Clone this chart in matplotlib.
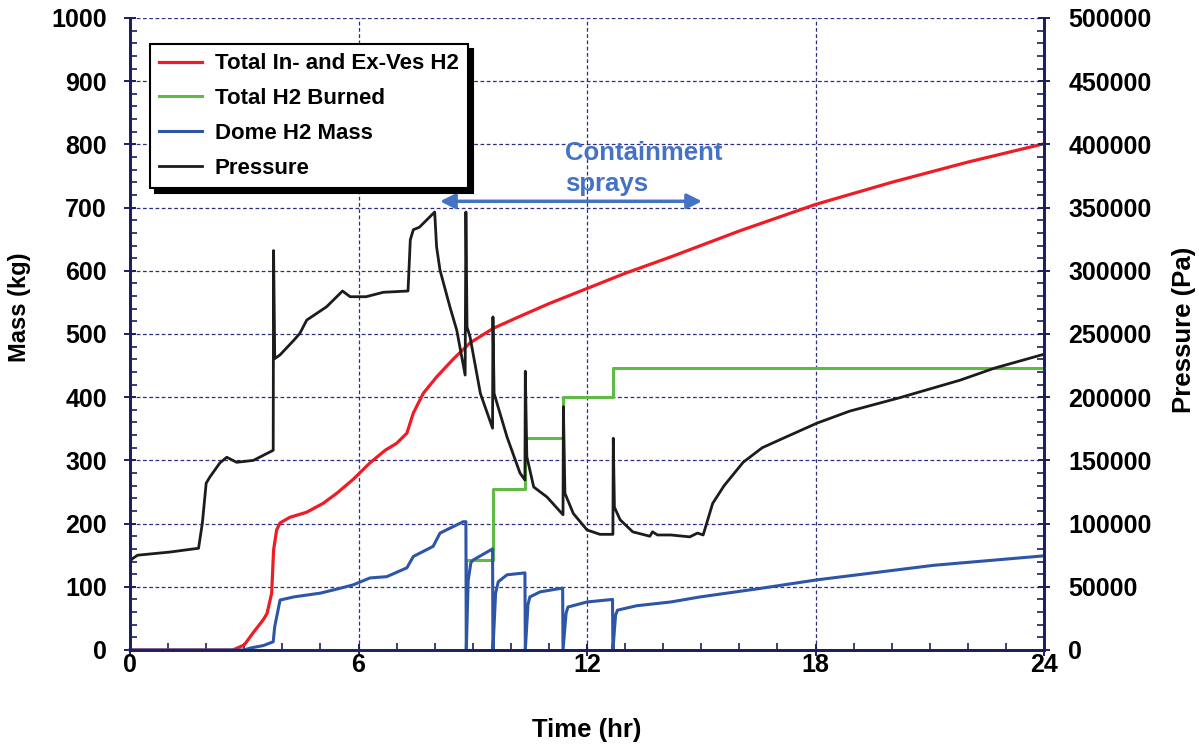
import matplotlib
matplotlib.use("Agg")
import matplotlib.pyplot as plt
from matplotlib.ticker import MultipleLocator

# Total in- and ex-vessel H2 (kg)
h2_total_time = [0.0, 2.7, 3.0, 3.23, 3.5, 3.6, 3.72, 3.77, 3.85, 3.94, 4.2, 4.64,
                 5.07, 5.43, 5.86, 6.3, 6.7, 7.0, 7.27, 7.44, 7.7, 8.05, 8.5, 8.93,
                 9.54, 10.24, 11.0, 12.0, 13.0, 14.2, 16.0, 18.0, 20.0, 22.0, 24.0]
h2_total = [0, 0, 8, 27, 48, 58, 90, 158, 190, 201, 210, 218,
            232, 248, 270, 296, 316, 327, 343, 375, 406, 432, 461, 486,
            509, 528, 548, 572, 596, 622, 663, 705, 740, 772, 801]

# Total H2 burned (kg), step after each burn
burn_time = [0.0, 8.83, 9.53, 10.38, 11.37, 12.68, 24.0]
h2_burned = [0, 143, 255, 336, 400, 446, 446]

# Dome H2 mass (kg)
dome_time = [0.0, 3.0, 3.15, 3.5, 3.76, 3.8, 3.94, 4.3, 5.0, 5.34, 5.86, 6.3,
             6.74, 7.27, 7.44, 7.96, 8.14, 8.75, 8.82,
             8.83, 8.88, 8.95, 9.0, 9.52,
             9.53, 9.6, 9.67, 9.9, 10.37,
             10.38, 10.45, 10.5, 10.77, 11.36,
             11.37, 11.45, 11.5, 12.0, 12.67,
             12.68, 12.75, 12.8, 13.3, 14.2, 14.97, 16.5, 18.04, 21.1, 24.0]
dome_h2 = [0, 0, 3, 7, 13, 37, 79, 84, 90, 95, 103, 114,
           116, 130, 148, 164, 185, 203, 203,
           0, 110, 138, 142, 160,
           0, 90, 108, 119, 122,
           0, 72, 84, 92, 98,
           0, 58, 68, 76, 80,
           0, 55, 63, 70, 76, 84, 97, 111, 134, 149]

# Containment pressure (Pa)
press_time = [0.0, 0.05, 0.2, 1.05, 1.8, 1.9, 2.0, 2.1, 2.36, 2.54, 2.8, 3.24,
              3.76, 3.77, 3.8, 3.94, 4.3, 4.46, 4.64, 5.16, 5.58, 5.78, 6.2,
              6.65, 7.3, 7.36, 7.44, 7.6, 8.0, 8.05, 8.14, 8.4, 8.58, 8.8,
              8.82, 8.85, 8.93, 9.2, 9.52, 9.53, 9.56, 9.9, 10.24, 10.37,
              10.38, 10.42, 10.6, 10.95, 11.37, 11.38, 11.42, 11.64, 12.0,
              12.34, 12.68, 12.69, 12.72, 12.87, 13.2, 13.65, 13.72, 13.85,
              14.2, 14.7, 14.9, 15.05, 15.3, 15.6, 16.1, 16.6, 17.15, 18.04,
              18.9, 20.2, 21.8, 22.7, 24.0]
pressure = [69500, 72000, 75000, 77500, 80500, 100500, 132000, 137000, 148000,
            152500, 148500, 150000,
            158000, 316000, 230500, 233500, 245000, 250500, 261000, 271500,
            284000, 279500, 279500,
            283000, 284000, 324500, 332500, 334500, 346500, 319000, 300500,
            271500, 253000, 217500,
            346500, 255500, 247500, 203000, 175500, 263500, 203000, 168500,
            140000, 134500,
            220500, 153000, 129000, 121000, 107000, 192500, 124000, 108000,
            95000,
            91500, 91500, 167500, 113000, 103000, 93500, 90000, 93500, 91000,
            91000, 89500, 92500, 91000, 116000, 130000, 148500, 160000,
            167500, 179500,
            189000, 199500, 213500, 223000, 234000]

series_labels = ["Total In- and Ex-Ves H2", "Total H2 Burned", "Dome H2 Mass", "Pressure"]
spray_span = (8.14, 15.02)

plt.rcParams["font.family"] = ["Liberation Sans", "DejaVu Sans"]
plt.rcParams["font.weight"] = "bold"

navy = "#1b1f5c"
grid_color = "#2e2e85"
red = "#ee1c24"
green = "#5fbb46"
blue = "#2e56a6"
black = "#1c1c1c"
spray_blue = "#4472c4"

fig = plt.figure(figsize=(11.99, 7.45), dpi=100)
ax = fig.add_axes([0.10843, 0.12752, 0.76230, 0.84832])
ax2 = ax.twinx()

l1, = ax.plot(h2_total_time, h2_total, color=red, lw=2.3, zorder=4)
l2, = ax.plot(burn_time, h2_burned, color=green, lw=2.2, drawstyle="steps-post",
              clip_on=False, zorder=3)
l3, = ax.plot(dome_time, dome_h2, color=blue, lw=2.2, clip_on=False, zorder=5)
l4, = ax2.plot(press_time, pressure, color=black, lw=2.0)

ax.set_xlim(0, 24)
ax.set_ylim(0, 1000)
ax2.set_ylim(0, 500000)

ax.xaxis.set_major_locator(MultipleLocator(6))
ax.xaxis.set_minor_locator(MultipleLocator(1))
ax.yaxis.set_major_locator(MultipleLocator(100))
ax.yaxis.set_minor_locator(MultipleLocator(20))
ax2.yaxis.set_major_locator(MultipleLocator(50000))
ax2.yaxis.set_minor_locator(MultipleLocator(10000))

ax.grid(True, which="major", color=grid_color, linestyle=(0, (3, 2)), lw=0.9)
ax.set_axisbelow(True)

for a in (ax, ax2):
    a.spines["top"].set_visible(False)
    for side in ("left", "right", "bottom"):
        a.spines[side].set_color(navy)
        a.spines[side].set_linewidth(2)
    a.tick_params(which="major", direction="inout", length=9, width=1.4,
                  color=navy, labelsize=18)
    a.tick_params(which="minor", direction="in", length=5, width=1.2, color=navy)
ax.tick_params(axis="x", pad=-2)
ax.tick_params(axis="y", pad=12)
ax2.tick_params(axis="y", pad=13)

ax.set_xlabel("Time (hr)", fontsize=18.5, fontweight="bold")
ax.xaxis.set_label_coords(0.5, -0.108)
ax.set_ylabel("Mass (kg)", fontsize=17, fontweight="bold",
              family=["Liberation Sans Narrow", "Liberation Sans"])
ax.yaxis.set_label_coords(-0.108, 0.543)
ax2.set_ylabel("Pressure (Pa)", fontsize=18.5, fontweight="bold")
ax2.yaxis.set_label_coords(1.14, 0.506)

ax.annotate("", xy=(spray_span[0], 710), xytext=(spray_span[1], 710),
            arrowprops=dict(arrowstyle="<|-|>", color=spray_blue, lw=2.5,
                            mutation_scale=22, shrinkA=0, shrinkB=0))
ax.text(11.42, 806, "Containment\nsprays", ha="left", va="top", color=spray_blue,
        fontsize=18.5, fontweight="bold", linespacing=1.38)

leg = ax2.legend([l1, l2, l3, l4], series_labels, loc="upper left",
                 bbox_to_anchor=(0.0219, 0.9589), bbox_transform=ax.transAxes,
                 prop=dict(weight="bold", size=16), frameon=True, fancybox=False,
                 edgecolor="black", framealpha=1, borderaxespad=0,
                 handlelength=1.9, handletextpad=0.6, labelspacing=0.62,
                 borderpad=0.42,
                 shadow={"color": "black", "alpha": 1, "ox": 3.5, "oy": -3.5})
leg.get_frame().set_linewidth(1.5)

fig.savefig("out.png", dpi=100)
